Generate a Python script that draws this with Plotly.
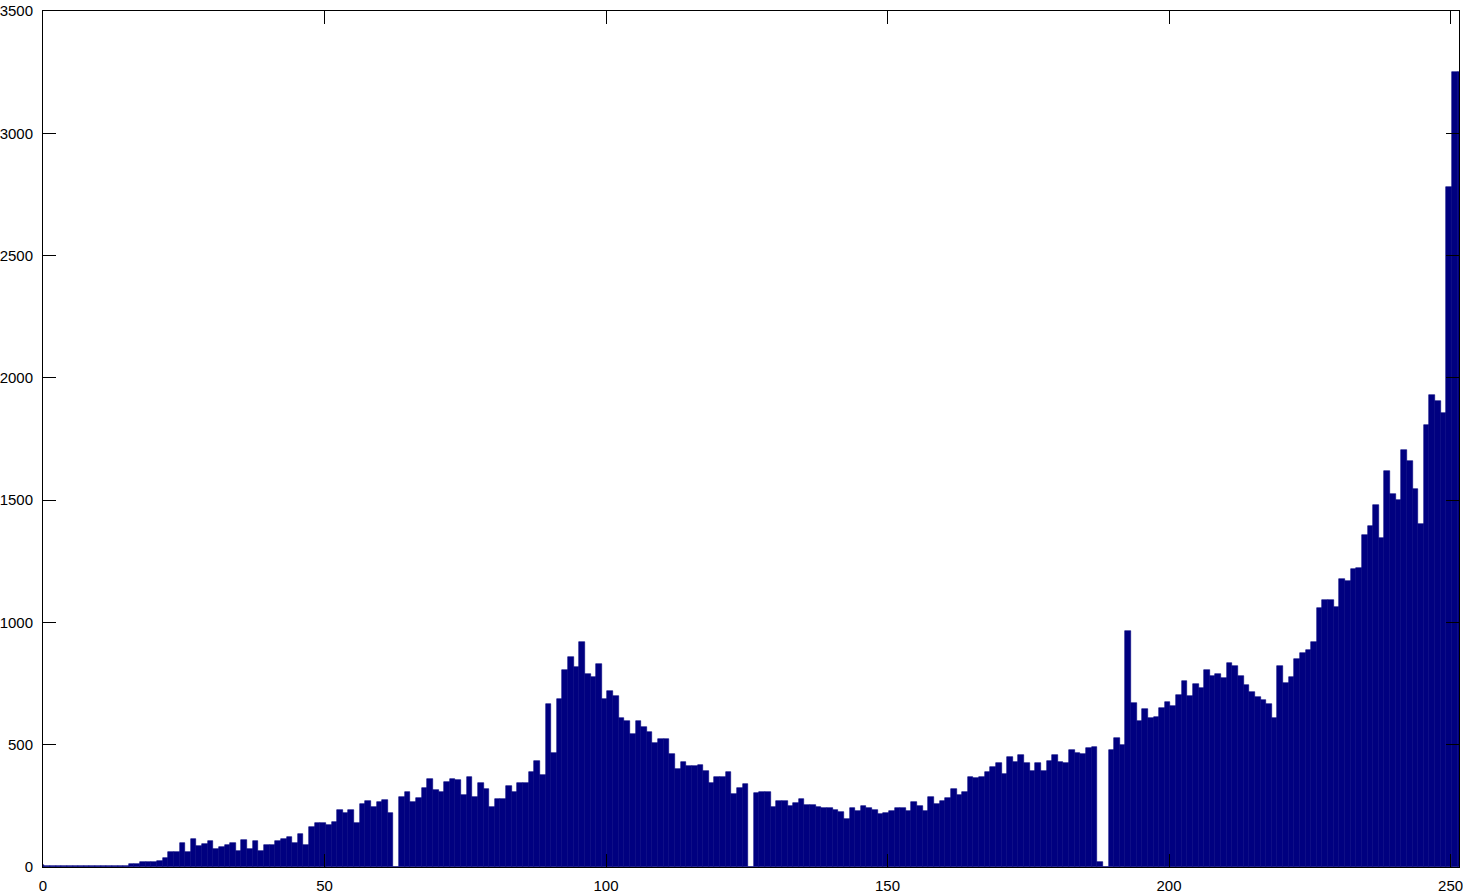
import plotly.graph_objects as go

# 灰度直方图：每个灰度级的像素计数
levels = list(range(253))
counts = [
    8, 3, 6, 6, 6, 3, 6, 6, 3, 6,
    5, 5, 5, 5, 5, 5, 11, 11, 20, 20,
    20, 25, 35, 60, 60, 97, 60, 116, 85, 93,
    105, 74, 80, 91, 97, 67, 109, 74, 105, 67,
    91, 91, 105, 116, 121, 97, 134, 91, 165, 178,
    178, 172, 184, 232, 221, 232, 179, 258, 270, 247,
    265, 275, 221, 0, 288, 305, 265, 281, 324, 360,
    314, 305, 349, 360, 356, 296, 368, 288, 342, 318,
    245, 280, 277, 331, 305, 342, 342, 387, 435, 376,
    665, 466, 688, 806, 860, 817, 922, 789, 776, 829,
    688, 720, 699, 608, 598, 543, 597, 571, 551, 508,
    522, 522, 461, 400, 431, 412, 412, 417, 393, 344,
    368, 368, 387, 300, 324, 338, 0, 301, 307, 307,
    245, 270, 270, 251, 263, 277, 252, 252, 245, 240,
    240, 235, 224, 196, 240, 229, 251, 240, 232, 215,
    222, 229, 240, 240, 229, 265, 251, 229, 288, 258,
    270, 281, 318, 296, 305, 367, 363, 369, 387, 410,
    424, 380, 449, 431, 459, 424, 394, 424, 394, 435,
    459, 428, 424, 479, 468, 461, 487, 492, 19, 2,
    479, 529, 499, 964, 669, 597, 645, 608, 615, 650,
    675, 659, 705, 762, 701, 750, 731, 804, 781, 791,
    774, 834, 822, 780, 743, 717, 694, 682, 668, 609,
    822, 751, 776, 852, 874, 886, 922, 1057, 1093, 1093,
    1063, 1179, 1168, 1218, 1223, 1358, 1396, 1482, 1347, 1618,
    1524, 1501, 1703, 1661, 1545, 1403, 1808, 1930, 1906, 1858,
    2780, 3250, 3250,
]
x_ticks = [0, 50, 100, 150, 200, 250]
y_ticks = [0, 500, 1000, 1500, 2000, 2500, 3000, 3500]

fig = go.Figure()
fig.add_trace(go.Bar(
    x=levels, y=counts,
    width=1, offset=-0.75,
    marker=dict(color="#000080", line=dict(color="#000080", width=0.6)),
    hovertemplate="%{x}: %{y}<extra></extra>",
))

axis_style = dict(
    showline=True, linecolor="black", linewidth=1, mirror="ticks",
    ticks="inside", ticklen=13, tickcolor="black", tickwidth=1,
    showgrid=False, zeroline=False, automargin=False,
    ticklabeloverflow="allow",
    tickfont=dict(family="Liberation Sans", size=15, color="black"),
)
fig.update_xaxes(range=[0, 251.5], tickvals=x_ticks, ticklabelstandoff=5, **axis_style)
fig.update_yaxes(range=[0, 3500], tickvals=y_ticks, ticklabelstandoff=6, **axis_style)

fig.update_layout(
    width=1463, height=894,
    margin=dict(l=43, r=4, t=11, b=27),
    paper_bgcolor="white", plot_bgcolor="white",
    bargap=0, showlegend=False,
)
# 去掉页面 body 默认的 8px 边距，让图从窗口左上角开始；隐藏工具栏
fig.write_html("out.html", config={"displayModeBar": False},
               post_script="document.body.style.margin='0';")
